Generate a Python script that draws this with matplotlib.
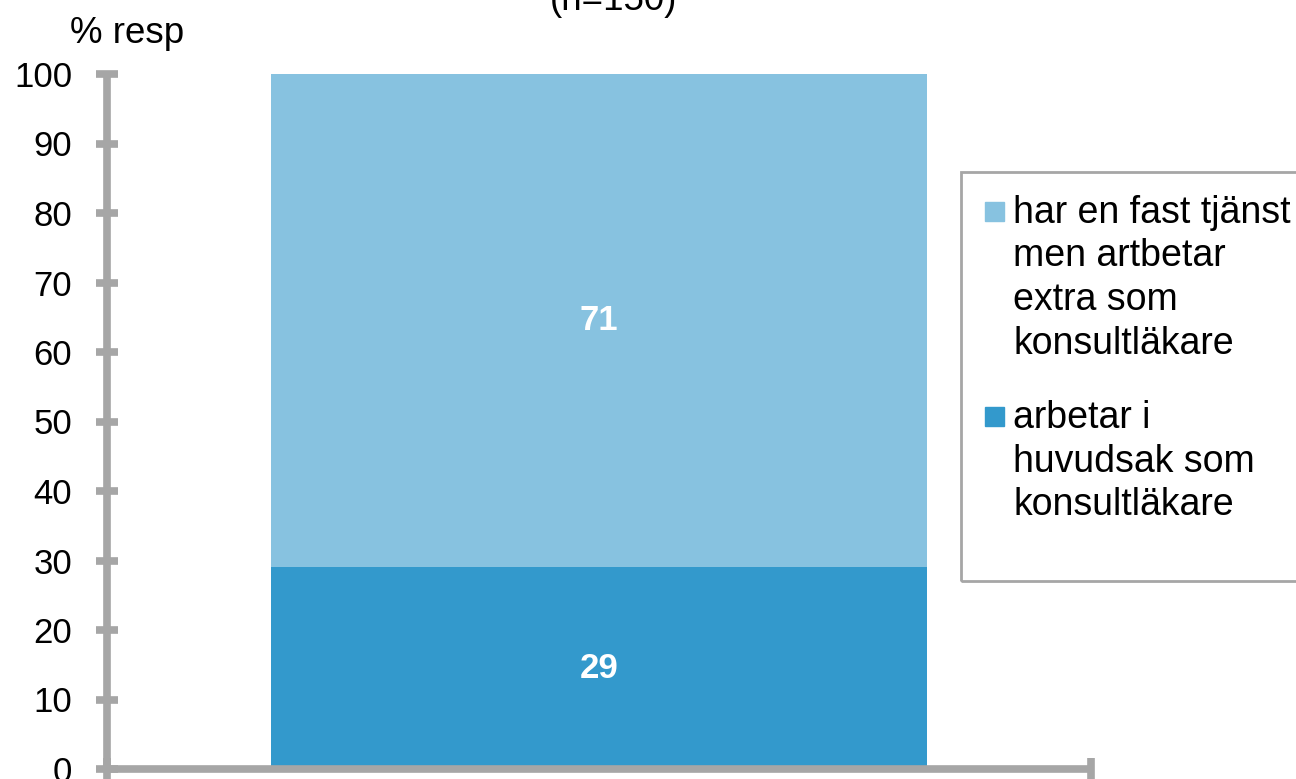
import numpy as np
import matplotlib.pyplot as plt
from matplotlib.patches import Rectangle

plt.rcParams['font.family'] = ['Liberation Sans', 'DejaVu Sans']

# data
kategorier = ['']
andel_huvudsak = [29]
andel_extra = [71]
serie_namn = ['har en fast tjänst\nmen artbetar\nextra som\nkonsultläkare',
              'arbetar i\nhuvudsak som\nkonsultläkare']
farger = ['#87C2E0', '#3399CC']   # ljus = extra, mörk = huvudsak
yticks = list(range(0, 101, 10))
titel = '(n=150)'
ylabel = '% resp'

W, H = 1296, 779
gra = '#A6A6A6'
fs = 25
fs_text = 26.5

fig = plt.figure(figsize=(W/100, H/100), dpi=100)
ax = fig.add_axes([107/W, 1-769/H, (1091-107)/W, (769-74)/H])

x = np.arange(len(kategorier))
ax.bar(x, andel_huvudsak, width=1.0, color=farger[1])
ax.bar(x, andel_extra, bottom=andel_huvudsak, width=1.0, color=farger[0])

for xi, a, b in zip(x, andel_huvudsak, andel_extra):
    ax.text(xi, a/2, str(a), ha='center', va='center', color='white',
            fontsize=25, fontweight='bold')
    ax.text(xi, a + b/2, str(b), ha='center', va='center', color='white',
            fontsize=25, fontweight='bold')

ax.set_xlim(-0.75, 0.75)
ax.set_ylim(0, 100)
ax.set_yticks(yticks)
ax.set_xticks([-0.75, 0.75])
ax.set_xticklabels(['', ''])
for s in ['top', 'right']:
    ax.spines[s].set_visible(False)
for s in ['left', 'bottom']:
    ax.spines[s].set_color(gra)
    ax.spines[s].set_linewidth(5.5)
    ax.spines[s].set_capstyle('butt')
ax.tick_params(axis='y', direction='inout', length=16, width=5.5, color=gra,
               labelsize=fs, pad=17)
ax.tick_params(axis='x', direction='inout', length=16, width=5.5, color=gra)
for t in ax.get_yticklines() + ax.get_xticklines():
    t.set_clip_on(False)

fig.text(70/W, 1-43/H, ylabel, fontsize=fs_text, ha='left', va='baseline')
fig.text(613/W, 1-10/H, titel, fontsize=fs_text, ha='center', va='baseline')

# förklaring (legend) ritad för hand, rad för rad
fig.patches.append(Rectangle((961/W, 1-581/H), (1300-961)/W, (581-172)/H,
                             transform=fig.transFigure, fill=False,
                             edgecolor=gra, linewidth=2))
legend_y = [223, 428]
radavst = 43.5
for namn, farg, yb in zip(serie_namn, farger, legend_y):
    fig.patches.append(Rectangle((985/W, 1-(yb-2)/H), 19/W, 19/H,
                                 transform=fig.transFigure, color=farg))
    for i, rad in enumerate(namn.split('\n')):
        fig.text(1013/W, 1-(yb + i*radavst)/H, rad, fontsize=27,
                 ha='left', va='baseline')

fig.savefig('out.png', dpi=100)
